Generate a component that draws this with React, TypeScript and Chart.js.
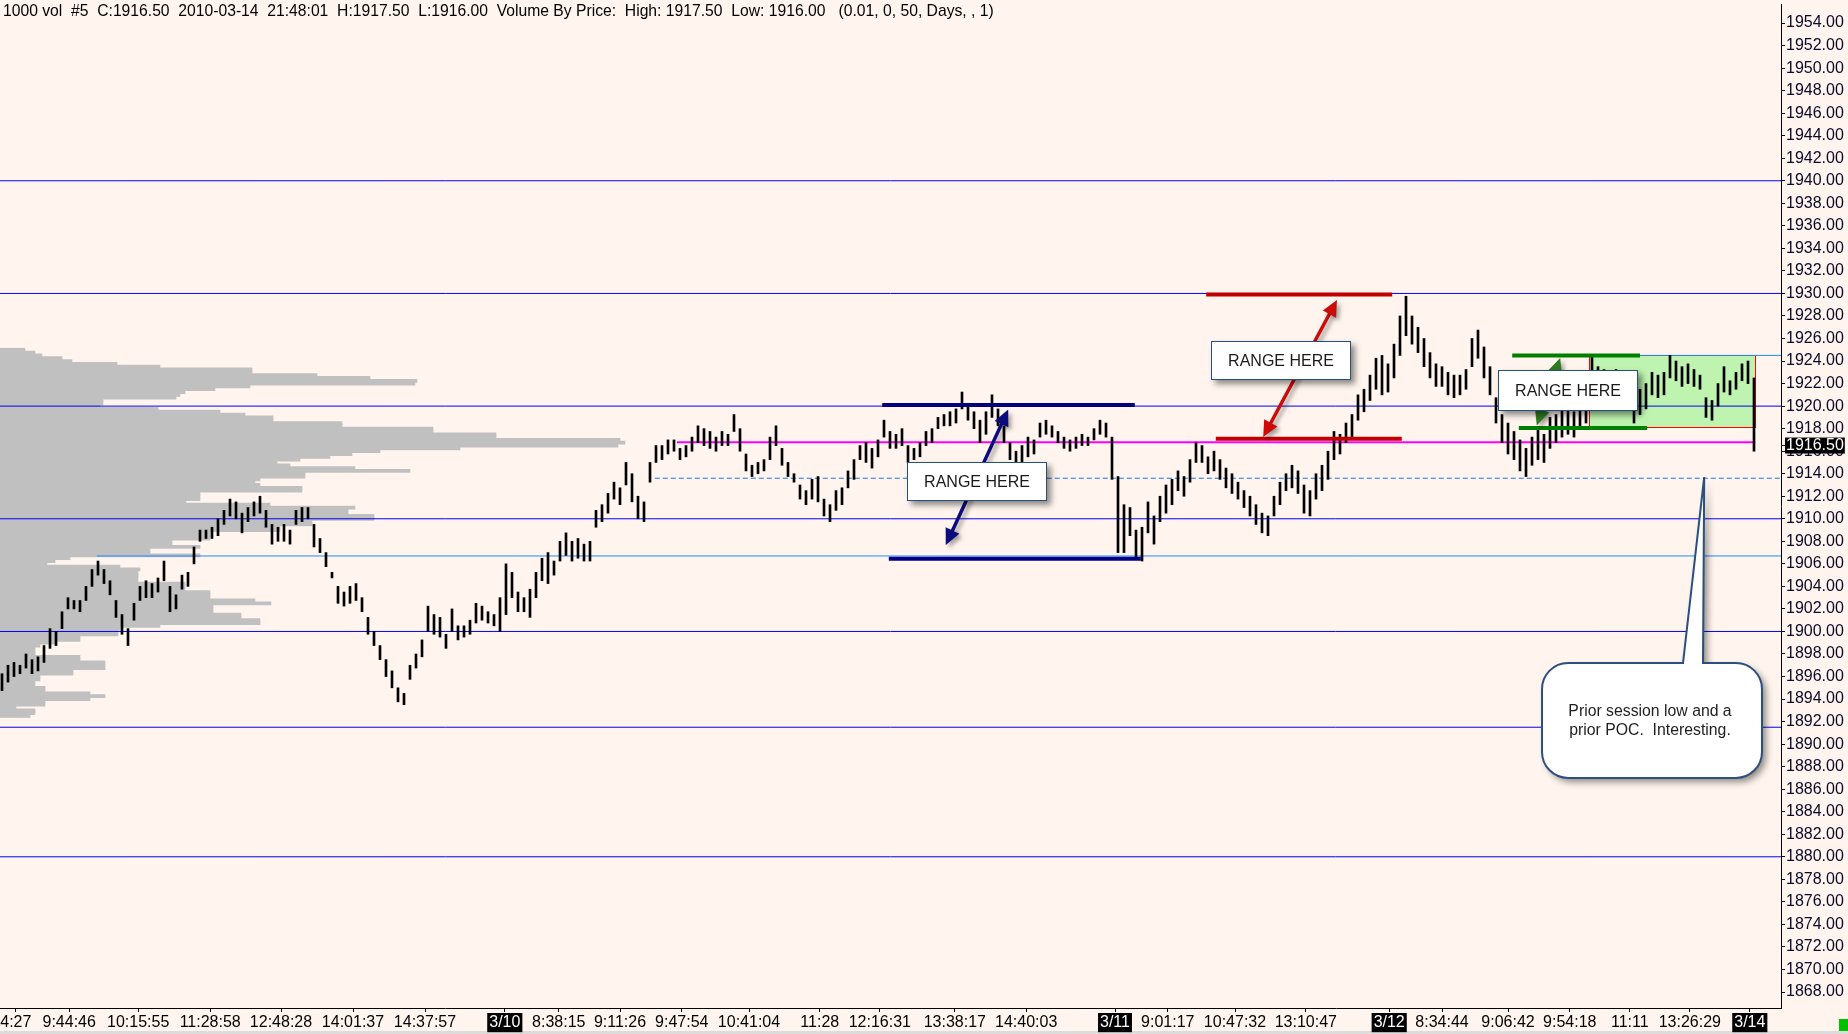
import React, { useEffect, useRef } from 'react';
import { Chart, registerables } from 'chart.js';

Chart.register(...registerables);

const FONT = "'Liberation Sans', Arial, sans-serif";

// ---- price bars (1000-volume bars) ----
const barHighs = [
  1896.25, 1897.0, 1897.25, 1897.0, 1898.0, 1897.5, 1897.75, 1898.75, 1900.25, 1900.0,
  1901.75, 1903.0, 1902.75, 1902.75, 1904.0, 1905.5, 1906.25, 1905.5, 1904.5, 1902.75,
  1901.5, 1900.25, 1902.5, 1904.0, 1904.5, 1904.25, 1904.75, 1906.25, 1904.0, 1903.25,
  1905.0, 1905.25, 1907.5, 1909.0, 1909.0, 1909.25, 1910.0, 1910.75, 1911.75, 1911.5,
  1910.5, 1911.0, 1911.5, 1912.0, 1910.75, 1909.5, 1909.25, 1909.5, 1909.0, 1910.75,
  1911.0, 1911.0, 1909.5, 1908.25, 1907.0, 1905.25, 1904.0, 1903.5, 1904.0, 1904.25,
  1903.0, 1901.25, 1900.0, 1898.75, 1897.5, 1896.5, 1895.0, 1894.5, 1897.0, 1898.0,
  1899.25, 1902.25, 1901.5, 1901.25, 1899.75, 1902.0, 1900.5, 1900.5, 1901.0, 1902.5,
  1902.25, 1901.75, 1901.5, 1903.0, 1906.0, 1905.25, 1903.5, 1903.0, 1903.75, 1905.25,
  1906.5, 1907.0, 1906.25, 1908.0, 1908.75, 1908.0, 1908.25, 1907.75, 1908.0, 1910.75,
  1911.25, 1912.25, 1913.25, 1912.75, 1915.0, 1914.0, 1912.0, 1911.5, 1915.0, 1916.5,
  1916.5, 1917.0, 1917.0, 1916.25, 1916.5, 1917.25, 1918.25, 1918.0, 1917.75, 1917.25,
  1917.75, 1917.5, 1919.25, 1918.0, 1915.75, 1914.75, 1915.0, 1915.25, 1917.25, 1918.25,
  1916.25, 1915.0, 1914.0, 1913.0, 1912.5, 1913.5, 1913.75, 1911.75, 1911.25, 1912.5,
  1912.75, 1914.25, 1915.25, 1916.5, 1916.75, 1916.25, 1917.0, 1918.75, 1917.75, 1917.5,
  1918.0, 1916.5, 1916.25, 1916.75, 1917.75, 1918.0, 1919.0, 1919.25, 1919.5, 1919.75,
  1921.25, 1920.25, 1919.5, 1918.75, 1919.5, 1921.0, 1919.75, 1918.25, 1916.75, 1916.0,
  1916.5, 1917.25, 1917.0, 1918.5, 1918.75, 1918.25, 1917.75, 1917.25, 1917.0, 1917.25,
  1917.5, 1917.25, 1918.0, 1918.75, 1918.5, 1917.25, 1913.75, 1911.25, 1911.0, 1909.0,
  1909.25, 1911.5, 1910.25, 1912.0, 1913.0, 1913.5, 1914.25, 1913.75, 1915.25, 1916.75,
  1916.5, 1915.5, 1916.0, 1915.25, 1914.5, 1914.0, 1913.25, 1912.5, 1912.0, 1911.25,
  1910.5, 1910.25, 1912.0, 1913.25, 1914.0, 1914.75, 1914.25, 1913.0, 1912.5, 1914.0,
  1914.75, 1916.0, 1917.75, 1917.5, 1918.5, 1919.25, 1921.0, 1921.5, 1922.75, 1924.25,
  1924.5, 1923.75, 1925.5, 1928.0, 1929.75, 1928.0, 1927.0, 1926.0, 1924.75, 1923.75,
  1923.5, 1923.0, 1922.75, 1922.75, 1923.25, 1926.0, 1926.75, 1925.25, 1923.5, 1920.75,
  1919.25, 1918.5, 1917.75, 1917.0, 1916.25, 1917.25, 1918.0, 1917.5, 1919.0, 1919.25,
  1919.75, 1920.0, 1919.5, 1921.0, 1921.25, 1924.5, 1923.5, 1923.25, 1922.75, 1923.25,
  1922.75, 1922.5, 1920.25, 1921.5, 1922.0, 1923.0, 1922.75, 1923.0, 1924.5, 1924.0,
  1923.5, 1923.75, 1923.25, 1922.75, 1920.75, 1920.5, 1922.0, 1923.5, 1922.25, 1923.0,
  1923.75, 1924.0, 1922.5,
];
const barLows = [
  1894.75, 1895.5, 1896.0, 1896.25, 1896.75, 1896.25, 1896.5, 1897.25, 1898.5, 1898.75,
  1900.25, 1902.0, 1902.0, 1901.75, 1902.75, 1904.0, 1905.0, 1904.25, 1903.25, 1901.25,
  1899.75, 1898.75, 1901.0, 1902.75, 1903.0, 1903.0, 1903.5, 1904.5, 1901.75, 1902.0,
  1903.75, 1904.0, 1906.0, 1908.0, 1908.25, 1908.25, 1908.5, 1909.5, 1910.25, 1910.0,
  1908.75, 1909.75, 1910.25, 1910.5, 1909.25, 1907.75, 1908.0, 1908.0, 1907.75, 1909.5,
  1909.75, 1910.0, 1907.5, 1907.0, 1905.75, 1904.75, 1902.5, 1902.25, 1902.5, 1902.75,
  1901.75, 1899.75, 1898.75, 1897.5, 1896.0, 1895.0, 1893.75, 1893.5, 1895.75, 1896.75,
  1897.75, 1900.0, 1899.75, 1899.5, 1898.5, 1900.0, 1899.25, 1899.5, 1899.75, 1900.75,
  1901.0, 1900.75, 1900.5, 1900.0, 1901.5, 1903.0, 1901.75, 1901.75, 1901.25, 1903.0,
  1904.5, 1904.25, 1905.0, 1906.25, 1906.75, 1906.25, 1906.5, 1906.25, 1906.25, 1909.25,
  1909.75, 1910.5, 1911.75, 1911.25, 1913.0, 1911.5, 1910.0, 1909.75, 1913.25, 1915.0,
  1915.25, 1915.75, 1916.0, 1915.25, 1915.5, 1916.0, 1916.75, 1916.5, 1916.25, 1916.0,
  1916.5, 1916.5, 1917.75, 1916.0, 1914.25, 1913.75, 1914.0, 1914.25, 1915.25, 1916.5,
  1914.75, 1913.75, 1913.25, 1911.75, 1911.25, 1911.75, 1911.5, 1910.25, 1909.75, 1910.75,
  1911.25, 1912.75, 1913.5, 1915.25, 1915.0, 1914.5, 1915.5, 1917.25, 1916.25, 1916.25,
  1916.5, 1915.0, 1915.25, 1915.5, 1916.5, 1916.75, 1918.0, 1918.25, 1918.25, 1918.5,
  1919.75, 1918.75, 1918.0, 1916.75, 1917.5, 1919.0, 1918.25, 1916.75, 1915.25, 1914.5,
  1915.0, 1915.5, 1915.75, 1917.25, 1917.5, 1917.25, 1916.75, 1916.25, 1916.0, 1916.25,
  1916.5, 1916.5, 1917.0, 1917.5, 1917.25, 1913.5, 1907.0, 1907.0, 1908.5, 1906.5,
  1906.25, 1908.75, 1907.75, 1909.75, 1910.5, 1911.25, 1912.5, 1912.0, 1913.25, 1915.0,
  1915.0, 1914.0, 1914.25, 1913.5, 1912.75, 1912.25, 1911.75, 1911.0, 1910.25, 1909.5,
  1908.75, 1908.5, 1910.25, 1911.25, 1912.5, 1912.75, 1912.25, 1910.5, 1910.25, 1911.75,
  1912.5, 1913.5, 1915.25, 1915.75, 1916.75, 1917.25, 1918.75, 1919.5, 1920.5, 1921.5,
  1921.0, 1921.25, 1922.5, 1924.5, 1926.25, 1925.5, 1924.75, 1923.5, 1922.5, 1921.75,
  1921.75, 1921.0, 1920.75, 1921.0, 1921.5, 1923.5, 1924.25, 1922.5, 1921.0, 1918.5,
  1916.75, 1915.75, 1915.25, 1914.25, 1913.75, 1914.75, 1915.25, 1915.0, 1916.25, 1916.75,
  1917.25, 1917.5, 1917.25, 1918.25, 1918.5, 1921.5, 1921.0, 1921.25, 1920.5, 1921.0,
  1920.75, 1920.5, 1918.5, 1919.25, 1919.75, 1921.0, 1920.75, 1921.0, 1922.5, 1922.25,
  1921.75, 1922.0, 1921.75, 1921.5, 1919.0, 1918.75, 1920.0, 1921.25, 1921.0, 1921.5,
  1922.25, 1922.0, 1916.0,
];
const lastPrice = 1916.5;

// ---- time axis (bar index of each label) ----
const xTickBars = [2.3, 11.2, 22.7, 34.7, 46.5, 58.5, 70.5, 83.8, 92.8, 103, 113.3, 124.5, 136.3, 146.3,
  158.8, 170.7, 185.5, 194.3, 205.5, 217.3, 231.2, 240, 251, 261.3, 271.3, 281.3, 291.3];
const xTickLabels = ['4:27', '9:44:46', '10:15:55', '11:28:58', '12:48:28', '14:01:37', '14:37:57', '3/10',
  '8:38:15', '9:11:26', '9:47:54', '10:41:04', '11:28', '12:16:31', '13:38:17', '14:40:03', '3/11',
  '9:01:17', '10:47:32', '13:10:47', '3/12', '8:34:44', '9:06:42', '9:54:18', '11:11', '13:26:29', '3/14'];
const sessionLabels = ['3/10', '3/11', '3/12', '3/14'];

// ---- price axis ----
const yTickValues = [1868, 1870, 1872, 1874, 1876, 1878, 1880, 1882, 1884, 1886, 1888, 1890, 1892, 1894,
  1896, 1898, 1900, 1902, 1904, 1906, 1908, 1910, 1912, 1914, 1916, 1918, 1920, 1922, 1924, 1926, 1928,
  1930, 1932, 1934, 1936, 1938, 1940, 1942, 1944, 1946, 1948, 1950, 1952, 1954];

// ---- volume by price (from 1925.00 down, 0.25 per row) ----
const profileTop = 1925;
const profileTick = 0.25;
const profileVolume = [
  25, 35, 42, 62, 72, 117, 160, 252, 252, 317, 370, 417, 415, 250, 215, 185, 180, 176, 103, 103,
  100, 158, 220, 245, 273, 273, 342, 342, 433, 433, 496, 496, 620, 625, 618, 460, 380, 352, 330, 300,
  277, 290, 355, 410, 305, 305, 260, 255, 260, 302, 302, 200, 200, 200, 186, 270, 355, 348, 348, 374,
  374, 312, 312, 280, 280, 210, 210, 210, 172, 172, 200, 150, 150, 200, 70, 55, 47, 120, 140, 138,
  138, 138, 138, 185, 185, 185, 210, 210, 210, 255, 271, 213, 213, 213, 241, 241, 260, 260, 160, 120,
  118, 118, 80, 80, 55, 40, 35, 35, 35, 80, 80, 105, 105, 105, 73, 73, 40, 40, 35, 35,
  45, 45, 90, 105, 90, 45, 45, 16, 35, 35, 30,
];

// ---- reference levels ----
const X_MIN = -1 / 3;
const X_MAX = 296.5;
const Y_MIN = 1866.58;
const Y_MAX = 1955.69;
const roundLevels = [1940, 1930, 1920, 1910, 1900, 1891.5, 1880];
const priorLow = { price: 1906.7, from: 15.8 };
const priorPocDashed = { price: 1913.6, from: 108.8 };
const pocLine = { price: 1916.8, from: 112.5, to: 292.2 };
const boxTopLine = { price: 1924.5, from: 273 };
const navyRange = [{ price: 1920.1, from: 146.7, to: 188.8 }, { price: 1906.45, from: 147.8, to: 189.8 }];
const redRange = [{ price: 1929.9, from: 200.7, to: 231.7 }, { price: 1917.1, from: 202.3, to: 233.3 }];
const greenRange = [{ price: 1924.5, from: 251.7, to: 273 }, { price: 1918.05, from: 252.8, to: 274.2 }];
const consolidation = { from: 264.5, to: 292.2, top: 1924.5, bottom: 1918.1 };

const rangeBoxes = [
  { text: 'RANGE HERE', from: 150.8, to: 174.2, top: 1915.05, bottom: 1911.55 },
  { text: 'RANGE HERE', from: 201.5, to: 224.8, top: 1925.8, bottom: 1922.3 },
  { text: 'RANGE HERE', from: 249.3, to: 272.7, top: 1923.2, bottom: 1919.55 },
];
const rangeArrows = [
  { color: '#0B0B7E', a: [157.3, 1907.67], b: [167.7, 1919.7] },
  { color: '#CC0A0A', a: [210.2, 1917.26], b: [222.5, 1929.42] },
  { color: '#2F7A1F', a: [255.8, 1918.3], b: [259.7, 1924.27] },
];
const callout = {
  lines: ['Prior session low and a', 'prior POC.  Interesting.'],
  from: 256.67, to: 293.33, top: 1897.2, bottom: 1887.0,
  baseL: 280.17, baseR: 283.5, tipX: 283.7, tipY: 1913.7,
};
const headerText = '1000 vol  #5  C:1916.50  2010-03-14  21:48:01  H:1917.50  L:1916.00  Volume By Price:  High: 1917.50  Low: 1916.00   (0.01, 0, 50, Days, , 1)';

function seg(from: number, to: number, price: number) {
  return [{ x: from, y: price }, { x: to, y: price }];
}

function drawArrow(ctx: CanvasRenderingContext2D, x1: number, y1: number, x2: number, y2: number, color: string) {
  const ang = Math.atan2(y2 - y1, x2 - x1);
  const head = 16;
  const half = 7.5;
  const c = Math.cos(ang);
  const s = Math.sin(ang);
  ctx.save();
  ctx.shadowColor = 'rgba(0,0,0,0.35)';
  ctx.shadowBlur = 4;
  ctx.shadowOffsetX = 3;
  ctx.shadowOffsetY = 3;
  ctx.strokeStyle = color;
  ctx.fillStyle = color;
  ctx.lineWidth = 3.5;
  ctx.beginPath();
  ctx.moveTo(x1 + c * head * 0.8, y1 + s * head * 0.8);
  ctx.lineTo(x2 - c * head * 0.8, y2 - s * head * 0.8);
  ctx.stroke();
  const tri = (tx: number, ty: number, dc: number, ds: number) => {
    ctx.beginPath();
    ctx.moveTo(tx, ty);
    ctx.lineTo(tx - head * dc + half * ds, ty - head * ds - half * dc);
    ctx.lineTo(tx - head * dc - half * ds, ty - head * ds + half * dc);
    ctx.closePath();
    ctx.fill();
  };
  tri(x2, y2, c, s);
  tri(x1, y1, -c, -s);
  ctx.restore();
}

const overlay = {
  id: 'overlay',
  beforeDraw(chart: any) {
    const { ctx, width, height } = chart;
    ctx.save();
    ctx.fillStyle = '#FFF5EE';
    ctx.fillRect(0, 0, width, height);
    ctx.fillStyle = '#DCDCDC';
    ctx.fillRect(0, height - 3, width, 3);
    ctx.restore();
  },
  beforeDatasetsDraw(chart: any) {
    const { ctx } = chart;
    const xs = chart.scales.x;
    const ys = chart.scales.y;
    const l = xs.getPixelForValue(consolidation.from);
    const r = xs.getPixelForValue(consolidation.to);
    const t = ys.getPixelForValue(consolidation.top);
    const b = ys.getPixelForValue(consolidation.bottom);
    ctx.save();
    ctx.fillStyle = '#BEF4B0';
    ctx.fillRect(l, t, r - l, b - t);
    ctx.strokeStyle = '#FF0000';
    ctx.lineWidth = 1;
    ctx.strokeRect(Math.round(l) + 0.5, Math.round(t) + 0.5, Math.round(r - l), Math.round(b - t));
    ctx.restore();
  },
  afterDatasetsDraw(chart: any) {
    const { ctx } = chart;
    const xs = chart.scales.x;
    const ys = chart.scales.y;
    for (const a of rangeArrows) {
      drawArrow(ctx, xs.getPixelForValue(a.a[0]), ys.getPixelForValue(a.a[1]),
        xs.getPixelForValue(a.b[0]), ys.getPixelForValue(a.b[1]), a.color);
    }
    for (const bx of rangeBoxes) {
      const l = Math.round(xs.getPixelForValue(bx.from));
      const r = Math.round(xs.getPixelForValue(bx.to));
      const t = Math.round(ys.getPixelForValue(bx.top));
      const b = Math.round(ys.getPixelForValue(bx.bottom));
      ctx.save();
      ctx.shadowColor = 'rgba(0,0,0,0.45)';
      ctx.shadowBlur = 6;
      ctx.shadowOffsetX = 4;
      ctx.shadowOffsetY = 4;
      ctx.fillStyle = '#FFFFFF';
      ctx.fillRect(l, t, r - l, b - t);
      ctx.restore();
      ctx.save();
      ctx.strokeStyle = '#24507E';
      ctx.lineWidth = 1;
      ctx.strokeRect(l + 0.5, t + 0.5, r - l - 1, b - t - 1);
      ctx.fillStyle = '#1A1A1A';
      ctx.font = `16px ${FONT}`;
      ctx.textAlign = 'center';
      ctx.textBaseline = 'middle';
      ctx.fillText(bx.text, (l + r) / 2, (t + b) / 2 + 1);
      ctx.restore();
    }
    // callout
    const x0 = xs.getPixelForValue(callout.from);
    const x1 = xs.getPixelForValue(callout.to);
    const y0 = ys.getPixelForValue(callout.top);
    const y1 = ys.getPixelForValue(callout.bottom);
    const bl = xs.getPixelForValue(callout.baseL);
    const br = xs.getPixelForValue(callout.baseR);
    const tx = xs.getPixelForValue(callout.tipX);
    const ty = ys.getPixelForValue(callout.tipY);
    const rad = 26;
    const path = () => {
      ctx.beginPath();
      ctx.moveTo(x0 + rad, y0);
      ctx.lineTo(bl, y0);
      ctx.lineTo(tx, ty);
      ctx.lineTo(br, y0);
      ctx.lineTo(x1 - rad, y0);
      ctx.arcTo(x1, y0, x1, y0 + rad, rad);
      ctx.lineTo(x1, y1 - rad);
      ctx.arcTo(x1, y1, x1 - rad, y1, rad);
      ctx.lineTo(x0 + rad, y1);
      ctx.arcTo(x0, y1, x0, y1 - rad, rad);
      ctx.lineTo(x0, y0 + rad);
      ctx.arcTo(x0, y0, x0 + rad, y0, rad);
      ctx.closePath();
    };
    ctx.save();
    ctx.shadowColor = 'rgba(0,0,0,0.45)';
    ctx.shadowBlur = 7;
    ctx.shadowOffsetX = 4;
    ctx.shadowOffsetY = 4;
    path();
    ctx.fillStyle = '#FFFFFF';
    ctx.fill();
    ctx.restore();
    ctx.save();
    path();
    ctx.strokeStyle = '#2B4F7E';
    ctx.lineWidth = 2;
    ctx.stroke();
    ctx.fillStyle = '#1E1E1E';
    ctx.font = `15.8px ${FONT}`;
    ctx.textAlign = 'center';
    ctx.textBaseline = 'middle';
    const cx = (x0 + x1) / 2 - 2;
    const cy = (y0 + y1) / 2;
    ctx.fillText(callout.lines[0], cx, cy - 9);
    ctx.fillText(callout.lines[1], cx, cy + 10);
    ctx.restore();
  },
  afterDraw(chart: any) {
    const { ctx } = chart;
    ctx.save();
    ctx.fillStyle = '#000';
    ctx.font = `15.7px ${FONT}`;
    ctx.textBaseline = 'middle';
    ctx.textAlign = 'left';
    ctx.fillText(headerText, 3, 12);
    ctx.fillStyle = '#00C000';
    ctx.fillRect(1839, 1019, 9, 12);
    ctx.restore();
  },
};

export default function App() {
  const ref = useRef<HTMLCanvasElement>(null);
  useEffect(() => {
    const lineDs = (data: any[], color: string, width: number, order: number, dash: number[] = []) => ({
      type: 'line',
      data,
      xAxisID: 'x',
      yAxisID: 'y',
      borderColor: color,
      borderWidth: width,
      borderDash: dash,
      pointRadius: 0,
      fill: false,
      order,
    });
    const datasets: any[] = [
      {
        type: 'bar',
        indexAxis: 'y',
        xAxisID: 'xv',
        yAxisID: 'yv',
        data: profileVolume.map((v, i) => ({ x: v, y: profileTop - i * profileTick })),
        backgroundColor: '#C0C0C0',
        borderWidth: 0,
        barThickness: 3.1,
        grouped: false,
        order: 10,
      },
      ...roundLevels.map((p) => lineDs(seg(X_MIN, X_MAX, p), '#0000F0', 1, 8)),
      lineDs(seg(priorLow.from, X_MAX, priorLow.price), '#1E8CFF', 1, 8),
      lineDs(seg(priorPocDashed.from, X_MAX, priorPocDashed.price), '#1C72E0', 1, 8, [5, 3]),
      lineDs(seg(boxTopLine.from, X_MAX, boxTopLine.price), '#1E8CFF', 1, 8),
      lineDs(seg(pocLine.from, pocLine.to, pocLine.price), '#FF00FF', 2, 8),
      {
        type: 'bar',
        xAxisID: 'x',
        yAxisID: 'y',
        data: barHighs.map((h, i) => ({ x: i, y: [barLows[i], h] })),
        backgroundColor: '#000000',
        borderWidth: 0,
        barThickness: 2,
        grouped: false,
        order: 3,
      },
      ...navyRange.map((r) => lineDs(seg(r.from, r.to, r.price), '#000080', 4, 1)),
      ...redRange.map((r) => lineDs(seg(r.from, r.to, r.price), '#C00000', 4, 1)),
      ...greenRange.map((r) => lineDs(seg(r.from, r.to, r.price), '#008000', 4, 1)),
    ];

    const tickFont = { family: FONT, size: 16 };
    const chart = new Chart(ref.current as HTMLCanvasElement, {
      type: 'bar',
      data: { datasets },
      plugins: [overlay],
      options: {
        responsive: false,
        devicePixelRatio: 1,
        animation: false,
        events: [],
        layout: { padding: { top: 4, left: 0, right: 0, bottom: 0 } },
        plugins: { legend: { display: false }, tooltip: { enabled: false }, title: { display: false } },
        scales: {
          x: {
            type: 'linear',
            axis: 'x',
            position: 'bottom',
            min: X_MIN,
            max: X_MAX,
            offset: false,
            bounds: 'data',
            grid: { display: true, drawOnChartArea: false, drawTicks: true, tickLength: 4, color: '#000', offset: false },
            border: { display: true, color: '#000', width: 1 },
            afterBuildTicks: (scale: any) => {
              scale.ticks = xTickBars.map((v) => ({ value: v }));
            },
            afterFit: (scale: any) => {
              scale.height = 26;
              scale.paddingLeft = 0;
              scale.paddingRight = 0;
            },
            ticks: {
              autoSkip: false,
              maxRotation: 0,
              minRotation: 0,
              padding: 1,
              font: tickFont,
              callback: (_v: any, i: number) => xTickLabels[i],
              color: (c: any) => (sessionLabels.includes(xTickLabels[c.index]) ? '#FFFFFF' : '#000000'),
              showLabelBackdrop: (c: any) => sessionLabels.includes(xTickLabels[c.index]),
              backdropColor: '#000000',
              backdropPadding: { x: 2, y: 0 },
            },
          },
          y: {
            type: 'linear',
            axis: 'y',
            position: 'right',
            min: Y_MIN,
            max: Y_MAX,
            offset: false,
            bounds: 'data',
            grid: { display: true, drawOnChartArea: false, drawTicks: true, tickLength: 4, color: '#000' },
            border: { display: true, color: '#000', width: 1 },
            afterBuildTicks: (scale: any) => {
              scale.ticks = [...yTickValues.map((v) => ({ value: v })), { value: lastPrice }];
            },
            afterFit: (scale: any) => {
              scale.width = 67;
              scale.paddingTop = 0;
              scale.paddingBottom = 0;
            },
            ticks: {
              autoSkip: false,
              padding: 1,
              font: { family: FONT, size: 16, lineHeight: 1.0 },
              callback: (v: any) => Number(v).toFixed(2),
              color: (c: any) => (c.tick && c.tick.value === lastPrice ? '#FFFFFF' : '#0A0A28'),
              showLabelBackdrop: (c: any) => !!(c.tick && c.tick.value === lastPrice),
              backdropColor: '#000000',
              backdropPadding: { left: 1, right: 1, top: 0, bottom: 0 },
            },
          },
          xv: {
            type: 'linear',
            axis: 'x',
            display: false,
            min: 0,
            max: 1781,
            offset: false,
          },
          yv: {
            type: 'linear',
            axis: 'y',
            display: false,
            min: Y_MIN,
            max: Y_MAX,
            offset: false,
          },
        },
      } as any,
    } as any);
    return () => chart.destroy();
  }, []);

  return (
    <div style={{ position: 'fixed', left: 0, top: 0, width: 1848, height: 1034, background: '#FFF5EE' }}>
      <canvas ref={ref} width={1848} height={1034} style={{ display: 'block', width: 1848, height: 1034 }} />
    </div>
  );
}
